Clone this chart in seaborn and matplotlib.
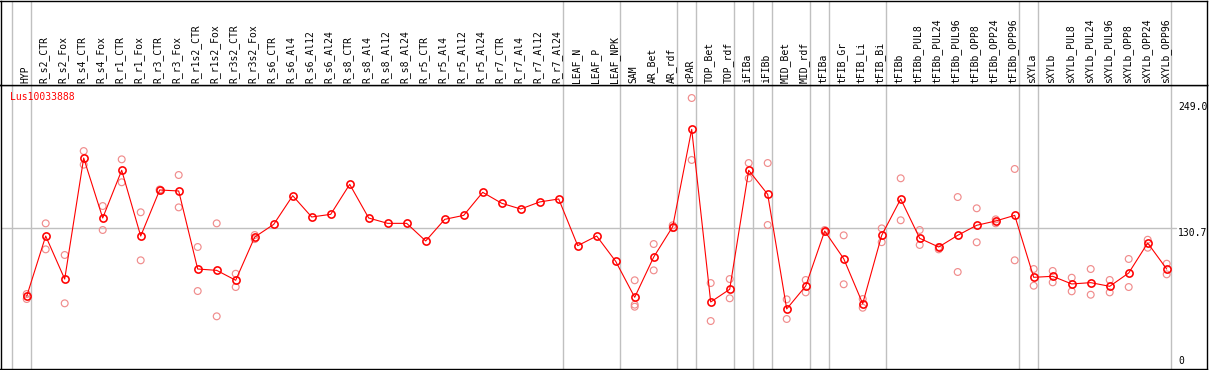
import numpy as np
import pandas as pd
import matplotlib
matplotlib.use("Agg")
import matplotlib.pyplot as plt
import matplotlib.transforms as mtransforms
import seaborn as sns

categories = ["HYP", "R_s2_CTR", "R_s2_Fox", "R_s4_CTR", "R_s4_Fox", "R_r1_CTR", "R_r1_Fox",
              "R_r3_CTR", "R_r3_Fox", "R_r1s2_CTR", "R_r1s2_Fox", "R_r3s2_CTR", "R_r3s2_Fox",
              "R_s6_CTR", "R_s6_Al4", "R_s6_Al12", "R_s6_Al24", "R_s8_CTR", "R_s8_Al4",
              "R_s8_Al12", "R_s8_Al24", "R_r5_CTR", "R_r5_Al4", "R_r5_Al12", "R_r5_Al24",
              "R_r7_CTR", "R_r7_Al4", "R_r7_Al12", "R_r7_Al24", "LEAF_N", "LEAF_P", "LEAF_NPK",
              "SAM", "AR_Bet", "AR_rdf", "cPAR", "TOP_Bet", "TOP_rdf", "iFIBa", "iFIBb",
              "MID_Bet", "MID_rdf", "tFIBa", "tFIB_Gr", "tFIB_Li", "tFIB_Bi", "tFIBb",
              "tFIBb_PUL8", "tFIBb_PUL24", "tFIBb_PUL96", "tFIBb_OPP8", "tFIBb_OPP24",
              "tFIBb_OPP96", "sXYLa", "sXYLb", "sXYLb_PUL8", "sXYLb_PUL24", "sXYLb_PUL96",
              "sXYLb_OPP8", "sXYLb_OPP24", "sXYLb_OPP96"]

means = [64.2, 123, 81, 199.2, 140.6, 187.2, 123, 168, 167, 90.8, 89.5, 79.8, 122,
         134.4, 162.4, 141.6, 144.2, 173.5, 140.6, 135.4, 135.4, 118.2, 139.3, 143.2, 165.7,
         155, 149.4, 156.3, 159.2, 113.6, 123, 98.3,
         63.2, 102.5, 132.2, 227.2, 58.6, 71, 187.2, 163.7, 51.8, 74.2, 127.9, 100.9, 57,
         123.7, 159.2, 120.8, 112.3, 123.7, 133.5, 137.7, 143.2,
         82.7, 83.7, 76.2, 77.5, 73.9, 86.9, 116.2, 90.8]

nan = np.nan
rep_a = [66.4, 135.4, 104.5, 206, 152.3, 197.9, 146.2, 168.5, 182.6, 112.3, 135.4, 86.2, 124,
         nan, nan, nan, nan, nan, nan, nan, nan, nan, nan, nan, nan, nan, nan, nan, nan, nan, nan, nan,
         79.8, 115.2, 133.5, 257.8, 77.1, 81, 194.3, 194.3, 61.2, 80.1, 128.9, 123.7, 61.5,
         130.5, 179.4, 128.9, 112.3, 161.1, 150.1, 139.3, 188.5,
         90.8, 88.9, 82.3, 90.8, 80.1, 100.6, 119.4, 96]
rep_b = [61.5, 110, 57.3, 192.7, 128.9, 175.5, 99.3, 167.5, 151, 69.3, 44.6, 73.2, 120,
         nan, nan, nan, nan, nan, nan, nan, nan, nan, nan, nan, nan, nan, nan, nan, nan, nan, nan, nan,
         56, 89.5, 130.8, 197.3, 40, 62.2, 179.4, 133.8, 42, 68, 127, 75.9, 53,
         117, 138.4, 114.3, 110, 87.9, 116.9, 135.4, 99.3,
         74.5, 77.8, 69, 65.7, 68, 73.2, 111.6, 85.6]
rep_c = [nan] * 32 + [54] + [nan] * 28

gene_label = "Lus10033888"
axis_labels = ["249.0", "130.7", "0"]
boundaries = [-1, 0, 28, 31, 34, 35, 37, 38, 39, 41, 42, 45, 52, 53, 60]

sns.set_theme(style="white")
plt.rcParams["font.family"] = ["DejaVu Sans Mono", "DejaVu Sans"]

W, H = 1209, 370
fig = plt.figure(figsize=(W / 100, H / 100), dpi=100)
fig.patch.set_facecolor("white")

ax = fig.add_axes([0.5 / W, (H - 368.5) / H, 1206.5 / W, (368.5 - 85) / H])
axh = fig.add_axes([0.5 / W, (H - 85) / H, 1206.5 / W, 84.5 / H])

xl = ((0.5 - 26.7) / 19, (1207 - 26.7) / 19)
for a in (ax, axh):
    a.set_xlim(*xl)
    a.set_xticks([])
    a.set_yticks([])
    a.set_facecolor("white")
    for s in a.spines.values():
        s.set_color("black")
        s.set_linewidth(1.0)
ax.set_ylim((362 - 368.5) / 1.024, (362 - 85) / 1.024)
axh.set_ylim(0, 1)

grid_c = "#c0c0c0"
for b in boundaries:
    xv = b + 4 / 19
    ax.axvline(xv, color=grid_c, lw=1.0, zorder=1)
    axh.axvline(xv, color=grid_c, lw=1.0, zorder=1)
ax.axhline(130.7, xmin=0, xmax=(1176 - 0.5) / 1206.5, color=grid_c, lw=1.0, zorder=1)

# replicates
x_idx = np.arange(len(categories))
df_rep = pd.DataFrame({"x": np.concatenate([x_idx, x_idx, x_idx]),
                       "value": np.concatenate([rep_a, rep_b, rep_c])}).dropna()
sns.scatterplot(data=df_rep, x="x", y="value", ax=ax, marker="o", s=24,
                facecolor="none", edgecolor="#f08c8c", linewidth=0.85, zorder=2, legend=False)

df_mean = pd.DataFrame({"x": x_idx, "mean": means})
sns.lineplot(data=df_mean, x="x", y="mean", ax=ax, color="red", lw=0.8, marker="o",
             markersize=5.2, markerfacecolor="none", markeredgecolor="red",
             markeredgewidth=1.15, zorder=3, errorbar=None)
ax.set_xlabel("")
ax.set_ylabel("")
ax.set_xlim(*xl)
ax.set_xticks([])
ax.set_yticks([])

# header labels
trans = mtransforms.blended_transform_factory(axh.transData, axh.transAxes)
for i, c in enumerate(categories):
    axh.text(i - 1.5 / 19, 2 / 84.5, c, rotation=90, ha="center", va="bottom",
             fontsize=7, color="black", transform=trans)

fig.text(10 / W, 1 - 97 / H, gene_label, color="red", fontsize=7, ha="left", va="center")
for lab, py in zip(axis_labels, [107, 232.5, 361.5]):
    fig.text(1178 / W, 1 - py / H, lab, color="black", fontsize=7, ha="left", va="center")

fig.savefig("out.png", dpi=100)
